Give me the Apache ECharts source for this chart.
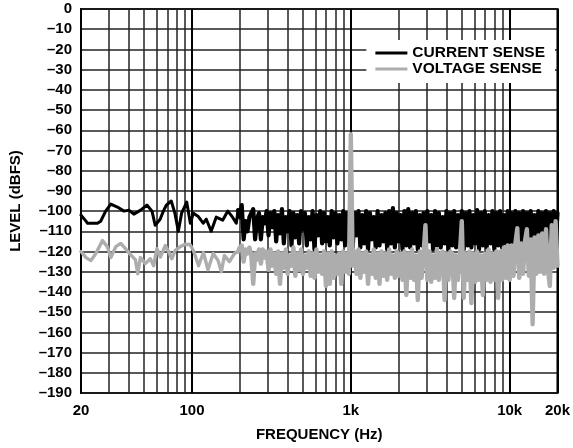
<!DOCTYPE html>
<html>

<head>
	<meta charset="UTF-8">
	<title></title>
	<style>
		html, body { margin: 0; padding: 0; background: #fff; }
		#chart {
			width: 573px;
			height: 448px;
		}
	</style>
	<script src="https://cdn.jsdelivr.net/npm/echarts@6/dist/echarts.min.js"></script>
</head>

<body>
	<div id="chart"></div>
	<script>
		// minor vertical grid lines (Hz)
		var minorFreqs = [30, 40, 50, 60, 70, 80, 90,
			200, 300, 400, 500, 600, 700, 800, 900,
			2000, 3000, 4000, 5000, 6000, 7000, 8000, 9000];

		// smoothed part below 200 Hz, [Hz, dBFS]
		var currentLow = [[20, -102], [21, -104], [22, -106], [25.4, -106], [26.6, -105], [28.6, -100],
			[30.8, -96.5], [33.9, -98], [37.3, -100], [40, -99.5], [43, -101.5], [47.5, -99.5], [52, -97],
			[56, -100], [58.6, -107], [63, -104], [66, -100], [69, -97], [74, -95], [78, -101], [82, -110],
			[86, -101], [92.6, -95.5], [97.6, -106], [102, -101], [109, -102.5], [117.6, -106], [123, -104],
			[132, -110], [142, -103], [156, -104.5], [168, -100], [180, -103], [190, -106], [195, -99.5]];
		var voltageLow = [[20, -120], [21.5, -123], [23.1, -124.5], [24.8, -121], [27.3, -114.6], [29.3, -117.6],
			[30.8, -123], [33.1, -117.6], [35.6, -116], [38.1, -118.6], [41, -121.5], [44, -124], [45.5, -131],
			[47.3, -123], [50.8, -126], [54.6, -123.6], [57.3, -127], [60.1, -118.6], [63.2, -122.7], [67.9, -117],
			[71.2, -120], [74.6, -123.6], [78.3, -119.5], [84.2, -117.6], [90.4, -116.4], [97, -116.5],
			[102, -119.5], [110, -127], [118, -120.5], [126, -129], [136, -121], [146, -124.5], [153, -130],
			[160, -122], [172, -125], [185, -121], [195, -120]];

		// dense FFT part, 200 Hz .. 20 kHz, 167 log spaced bins (bin 58 = 1 kHz)
		var denseStart = 200, denseEnd = 20000, denseCount = 167;
		var currentDense = [
			-103, -97, -114, -105, -110, -103, -101, -99, -114, -104, -101, -114, -103, -106, -100,
			-112, -101, -108, -100, -115, -102, -111, -99, -116, -103, -110, -100, -117, -101, -113,
			-102, -116, -100, -109, -101, -117, -103, -114, -100, -119, -102, -112, -100, -116, -101,
			-115, -103, -117, -100, -113, -101, -116, -102, -114, -100, -117, -101, -115,
			-103,
			-118, -101, -112, -100, -118, -102, -116, -100, -119, -101,
			-114, -103, -118, -100, -117, -102, -115, -101, -119, -100,
			-116, -98.5, -118, -101, -115, -102, -119, -100, -117, -99,
			-118, -101, -116, -100, -119, -102, -117, -101, -118, -100,
			-115, -102, -119, -100, -117, -101, -118, -103, -116, -100,
			-119, -101, -117, -100, -118, -102, -116, -100, -119, -101,
			-117, -100, -118, -102, -116, -99.5, -119, -101, -117, -100,
			-118, -102, -116, -100, -119, -101, -117, -100, -118, -102,
			-116, -100, -119, -101, -117, -100, -118, -101, -116, -100,
			-119, -101, -117, -100, -118, -102, -116, -100, -119, -101,
			-117, -100, -118, -101, -116, -100, -117, -101];
		var voltageDense = [
			-118, -117, -125, -119, -121, -118, -122, -136, -121, -124, -119, -126, -119, -123, -120,
			-129, -119, -127, -121, -131, -120, -136, -121, -128, -119, -131, -122, -127, -118, -132,
			-121, -129, -119, -131, -122, -128, -120, -132, -121, -133, -119, -130, -122, -131, -120,
			-137, -121, -136, -120, -133, -122, -131, -121, -136, -120, -130, -121, -131,
			-62,
			-127, -120, -131, -119, -133, -121, -130, -120, -136, -122,
			-131, -119, -133, -121, -136, -120, -132, -121, -134, -119,
			-131, -122, -133, -120, -132, -121, -134, -120, -141.5, -121,
			-133, -119, -134, -122, -144, -120, -133, -121, -107, -134,
			-120, -135, -122, -133, -119, -134, -121, -120, -144, -121,
			-134, -120, -121, -143, -122, -134, -121, -105, -143, -121,
			-134, -120, -145.5, -121, -135, -120, -134, -122, -141.5, -121,
			-134, -119, -135, -121, -134, -120, -143, -120, -134, -118,
			-133, -117, -134, -117, -132, -116, -108.5, -133, -116, -131,
			-115, -109, -132, -114, -156, -113, -131, -112, -130, -111,
			-131, -109, -129, -137, -107, -128, -105, -127];

		var font = 'Liberation Sans, Arial, Helvetica, sans-serif';
		var textStyle = { fontFamily: font, fontWeight: 'bold', fontSize: 15, color: '#000' };

		// dense bins as [Hz, dBFS], starting from the last smoothed point so the trace joins up
		function denseSeries(low, dense) {
			var out = [low[low.length - 1]];
			var step = Math.log(denseEnd / denseStart) / Math.LN10 / (denseCount - 1);
			for (var i = 0; i < dense.length; i++) {
				out.push([denseStart * Math.pow(10, i * step), dense[i]]);
			}
			return out;
		}

		function trace(name, data, color, width, z) {
			return {
				name: name,
				type: 'line',
				z: z,
				showSymbol: false,
				symbol: 'none',
				color: color,
				lineStyle: { color: color, width: width, join: 'round', cap: 'round' },
				data: data
			};
		}

		var myChart = echarts.init(document.getElementById('chart'));

		var option = {
			animation: false,
			backgroundColor: '#fff',
			grid: {
				left: 80, right: 12, top: 9, bottom: 55,
				show: true,
				borderColor: '#000',
				borderWidth: 2,
				backgroundColor: 'transparent'
			},
			legend: {
				data: ['CURRENT SENSE', 'VOLTAGE SENSE'],
				orient: 'vertical',
				right: 18,
				top: 40,
				icon: 'rect',
				itemWidth: 32,
				itemHeight: 3,
				itemGap: 0,
				padding: [5, 10, 6, 9],
				backgroundColor: '#fff',
				textStyle: { fontFamily: font, fontWeight: 'bold', fontSize: 15.5, color: '#000', lineHeight: 14 }
			},
			xAxis: {
				type: 'log',
				logBase: 10,
				min: 20,
				max: 20000,
				name: 'FREQUENCY (Hz)',
				nameLocation: 'middle',
				nameGap: 34,
				nameTextStyle: textStyle,
				axisLine: { show: false },
				axisTick: { show: false },
				axisLabel: {
					margin: 10,
					fontFamily: font, fontWeight: 'bold', fontSize: 15, color: '#000',
					formatter: function (v) {
						v = Math.round(v);
						return v >= 1000 ? (v / 1000) + 'k' : '' + v;
					}
				},
				splitLine: { show: true, lineStyle: { color: '#000', width: 2 } }
			},
			yAxis: {
				type: 'value',
				min: -190,
				max: 0,
				interval: 10,
				name: 'LEVEL (dBFS)',
				nameLocation: 'middle',
				nameGap: 58,
				nameTextStyle: textStyle,
				axisLine: { show: false },
				axisTick: { show: false },
				axisLabel: {
					margin: 9,
					fontFamily: font, fontWeight: 'bold', fontSize: 15, color: '#000',
					formatter: function (v) {
						return v < 0 ? '\u2013' + (-v) : '' + v;
					}
				},
				splitLine: { show: true, lineStyle: { color: '#222', width: 1.5 } }
			},
			series: [
				{
					// carrier for the minor vertical grid lines
					name: 'grid',
					type: 'line',
					data: [],
					z: 1,
					markLine: {
						silent: true,
						z: 1,
						animation: false,
						symbol: ['none', 'none'],
						label: { show: false },
						lineStyle: { color: '#222', width: 1.5, type: 'solid' },
						data: minorFreqs.map(function (f) { return { xAxis: f }; })
					}
				},
				trace('CURRENT SENSE', currentLow, '#000', 3, 3),
				trace('CURRENT SENSE', denseSeries(currentLow, currentDense), '#000', 4.2, 3),
				trace('VOLTAGE SENSE', voltageLow, '#adadad', 3.4, 4),
				trace('VOLTAGE SENSE', denseSeries(voltageLow, voltageDense), '#adadad', 4.4, 4)
			]
		};

		myChart.setOption(option);
	</script>
</body>

</html>
